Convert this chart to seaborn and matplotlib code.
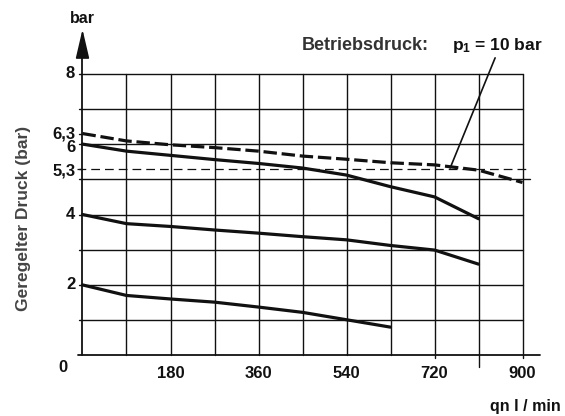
import numpy as np
import pandas as pd
import matplotlib
matplotlib.use("Agg")
import matplotlib.pyplot as plt
import seaborn as sns

# ---- data ----
flow = [0, 90, 180, 270, 360, 450, 540, 630, 720, 810, 900]
p_supply = [6.3, 6.09, 5.98, 5.9, 5.8, 5.66, 5.57, 5.47, 5.41, 5.26, 4.91]
p_set6 = [6.0, 5.8, 5.68, 5.56, 5.45, 5.32, 5.12, 4.79, 4.5, 3.88]
p_set4 = [4.0, 3.74, 3.66, 3.56, 3.47, 3.37, 3.28, 3.12, 2.99, 2.59]
p_set2 = [2.0, 1.70, 1.60, 1.51, 1.37, 1.22, 1.01, 0.80]
x_ticks = [180, 360, 540, 720, 900]
x_grid = [90, 180, 270, 360, 450, 540, 630, 720, 810, 900]
y_grid = [1, 2, 3, 4, 5, 6, 7, 8]
y_labels = {"8": 8, "6,3": 6.3, "6": 6, "5,3": 5.3, "4": 4, "2": 2}
ref_line = 5.3

sns.set_theme(style="white")
plt.rcParams["font.family"] = ["Liberation Sans", "DejaVu Sans"]
plt.rcParams["mathtext.fontset"] = "custom"
plt.rcParams["mathtext.bf"] = "Liberation Sans:bold"
plt.rcParams["mathtext.rm"] = "Liberation Sans"

fig = plt.figure(figsize=(5.65, 4.16), dpi=100)
ax = fig.add_axes([0, 0, 1, 1])
ax.axis("off")
# pixel mapping: x0=82.5px, 44px per 90 ; y0=355.3px, 35.2px per bar
sx = 44 / 90.0
ax.set_xlim(-82.5 / sx, (565 - 82.5) / sx)
ax.set_ylim(-(416 - 355.3) / 35.2, 355.3 / 35.2)

k = "#111111"
# grid
for y in y_grid:
    xe = 915 if y == 5 else 900
    ax.plot([-8, xe], [y, y], color=k, lw=1.0, zorder=1)
for x in x_grid:
    yb = -0.32 if x == 810 else (-0.08 if x in (720, 900) else 0)
    ax.plot([x, x], [yb, 8], color=k, lw=1.0, zorder=1)
for y in (5.3, 6.3):
    ax.plot([-8, 0], [y, y], color=k, lw=1.0, zorder=1)
ax.plot([-12, 915], [ref_line, ref_line], color=k, lw=0.9,
        dashes=(7, 4), zorder=1)

# axes with arrows
ax.plot([0, 0], [0, 8.6], color=k, lw=1.3, zorder=3)
ax.plot([-10, 935], [0, 0], color=k, lw=1.3, zorder=3)
ax.annotate("", xy=(0, 9.26), xytext=(0, 8.5),
            arrowprops=dict(arrowstyle="-|>,head_length=18,head_width=4.2",
                            mutation_scale=1, color=k, lw=1.2,
                            shrinkA=0, shrinkB=0))
ax.annotate("", xy=(988, 0), xytext=(910, 0),
            arrowprops=dict(arrowstyle="-|>,head_length=19,head_width=4.4",
                            mutation_scale=1, color=k, lw=1.2,
                            shrinkA=0, shrinkB=0))

# curves
sns.lineplot(x=flow, y=p_supply, ax=ax, color=k, lw=2.3,
             zorder=4).lines[-1].set_dashes((4.2, 1.5))
sns.lineplot(x=flow[:len(p_set6)], y=p_set6, ax=ax, color=k, lw=2.3, zorder=4)
sns.lineplot(x=flow[:len(p_set4)], y=p_set4, ax=ax, color=k, lw=2.3, zorder=4)
sns.lineplot(x=flow[:len(p_set2)], y=p_set2, ax=ax, color=k, lw=2.3, zorder=4)

# tick labels
fs = 12
for lab, v in y_labels.items():
    yy = v
    if lab == "6":
        yy = 5.9
    if lab == "5,3":
        yy = 5.24
    ax.text(-15, yy, lab, ha="right", va="center", fontsize=fs,
            fontweight="bold", color=k)
ax.text(-40, -0.36, "0", ha="center", va="center", fontsize=fs,
        fontweight="bold", color=k)
for x in x_ticks:
    ax.text(x, -0.51, str(x), ha="center", va="center", fontsize=fs,
            fontweight="bold", color=k)

ax.text(0, 9.58, "bar", ha="center", va="center", fontsize=11.5,
        fontweight="bold", color=k)
ax.text(978, -1.45, "qn l / min", ha="right", va="center", fontsize=11.5,
        fontweight="bold", color=k)
ax.text(-120, 3.9, "Geregelter Druck (bar)", rotation=90, ha="center",
        va="center", fontsize=12.5, fontweight="bold", color="#444444")

ax.text(448, 8.8, "Betriebsdruck:", ha="left", va="center", fontsize=13,
        fontweight="bold", color="#333333")
ax.text(755, 8.8, r"$\mathbf{p_1}$ = 10 bar", ha="left", va="center",
        fontsize=12.5, fontweight="bold", color=k)
ax.plot([844, 752], [8.45, 5.32], color=k, lw=1.2, zorder=5)

fig.savefig("out.png", dpi=100)
